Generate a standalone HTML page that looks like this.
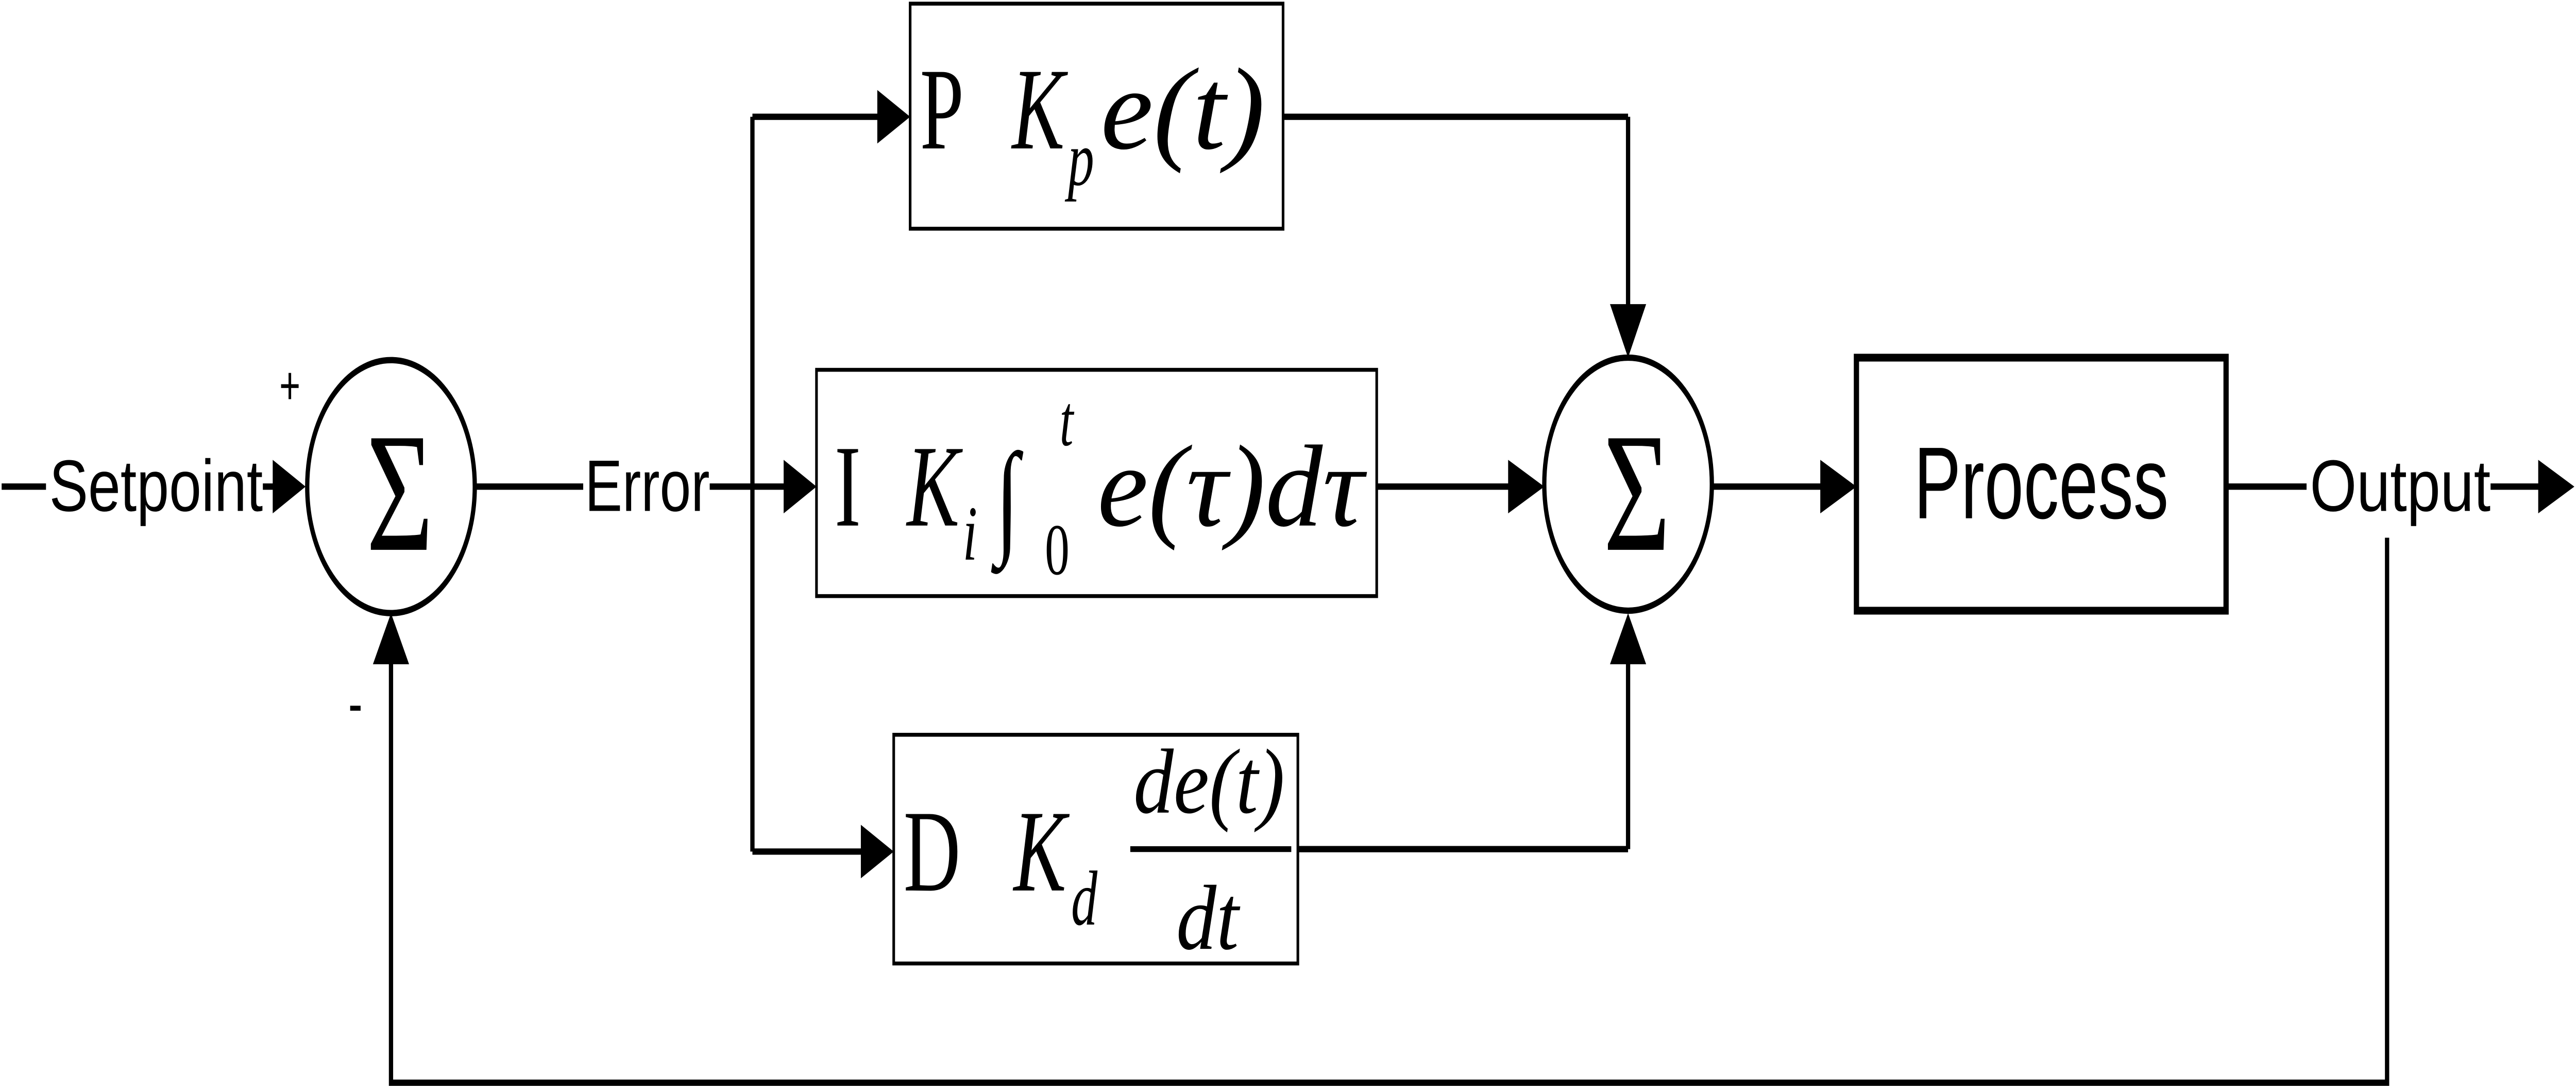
<!DOCTYPE html>
<html><head>
<style>html,body{margin:0;padding:0;background:#fff;width:100%;height:100%;overflow:hidden}svg{display:block;position:absolute;left:0;top:0;width:100vw;height:100vh}</style></head>
<body>
<svg xmlns="http://www.w3.org/2000/svg" viewBox="0 0 1568 448" preserveAspectRatio="none">
<rect width="1568" height="448" fill="#fff"/>
<g stroke="#000" stroke-width="2.6" fill="none">
<line x1="1" y1="200" x2="28" y2="200"/>
<line x1="160" y1="200" x2="168" y2="200"/>
<ellipse cx="238" cy="200" rx="51" ry="52"/>
<line x1="290" y1="200" x2="355" y2="200"/>
<line x1="432" y1="200" x2="480" y2="200"/>
<line x1="458" y1="48" x2="458" y2="350"/>
<line x1="458" y1="48" x2="536" y2="48"/>
<line x1="458" y1="350" x2="526" y2="350"/>
<line x1="781" y1="48" x2="991" y2="48"/>
<line x1="991" y1="48" x2="991" y2="128"/>
<line x1="838" y1="200" x2="920" y2="200"/>
<line x1="790" y1="349" x2="991" y2="349"/>
<line x1="991" y1="349" x2="991" y2="270"/>
<ellipse cx="991" cy="199" rx="51" ry="52"/>
<line x1="1042" y1="200" x2="1110" y2="200"/>
<line x1="1355" y1="200" x2="1404" y2="200"/>
<line x1="1516" y1="200" x2="1548" y2="200"/>
<polyline points="1453,221 1453,445 238,445 238,270"/>
</g>
<g stroke="#000" stroke-width="1.6" fill="none">
<rect x="554" y="1.5" width="227" height="92.5"/>
<rect x="497" y="152" width="341" height="93"/>
<rect x="544" y="302" width="246" height="94"/>
<line x1="688" y1="349" x2="786" y2="349" stroke-width="2.4"/>
</g>
<rect x="1130" y="147" width="225" height="104" fill="none" stroke="#000" stroke-width="3.2"/>
<g fill="#000">
<polygon points="186,200 166,189 166,211"/>
<polygon points="497,200 477,189 477,211"/>
<polygon points="554,48 534,37 534,59"/>
<polygon points="544,350 524,339 524,361"/>
<polygon points="991,147 980,125 1002,125"/>
<polygon points="940,200 918,189 918,211"/>
<polygon points="991,252 980,273 1002,273"/>
<polygon points="1130,200 1108,189 1108,211"/>
<polygon points="1567,200 1545,189 1545,211"/>
<polygon points="238,252 227,273 249,273"/>
</g>
<g font-family="'Liberation Sans', sans-serif" fill="#000" font-size="30">
<text x="30" y="210" textLength="130" lengthAdjust="spacingAndGlyphs">Setpoint</text>
<text x="356" y="210" textLength="76" lengthAdjust="spacingAndGlyphs">Error</text>
<text x="1406" y="210" textLength="110" lengthAdjust="spacingAndGlyphs">Output</text>
<text x="1165" y="213" font-size="42" textLength="155" lengthAdjust="spacingAndGlyphs">Process</text>
<text x="170" y="166" font-size="22">+</text>
<text x="212" y="298" font-size="26">-</text>
</g>
<g font-family="'Liberation Serif', serif" fill="#000">
<text x="223" y="226" font-size="70">Σ</text>
<text x="976" y="226" font-size="70">Σ</text>
<text x="560" y="61" font-size="48">P</text>
<text x="616" y="61" font-size="48" font-style="italic">K</text>
<text x="650" y="76" font-size="32" font-style="italic">p</text>
<text x="670" y="61" font-size="48" font-style="italic" textLength="100" lengthAdjust="spacingAndGlyphs">e(t)</text>
<text x="508" y="216" font-size="48">I</text>
<text x="552" y="216" font-size="48" font-style="italic">K</text>
<text x="586" y="230" font-size="32" font-style="italic">i</text>
<text x="606" y="222" font-size="52" font-style="italic">∫</text>
<text x="645" y="183" font-size="30" font-style="italic">t</text>
<text x="636" y="236" font-size="30">0</text>
<text x="668" y="216" font-size="48" font-style="italic" textLength="162" lengthAdjust="spacingAndGlyphs">e(τ)dτ</text>
<text x="550" y="366" font-size="48">D</text>
<text x="617" y="366" font-size="48" font-style="italic">K</text>
<text x="652" y="380" font-size="32" font-style="italic">d</text>
<text x="690" y="334" font-size="38" font-style="italic" textLength="92" lengthAdjust="spacingAndGlyphs">de(t)</text>
<text x="716" y="390" font-size="38" font-style="italic" textLength="38" lengthAdjust="spacingAndGlyphs">dt</text>
</g>
</svg>
</body></html>
